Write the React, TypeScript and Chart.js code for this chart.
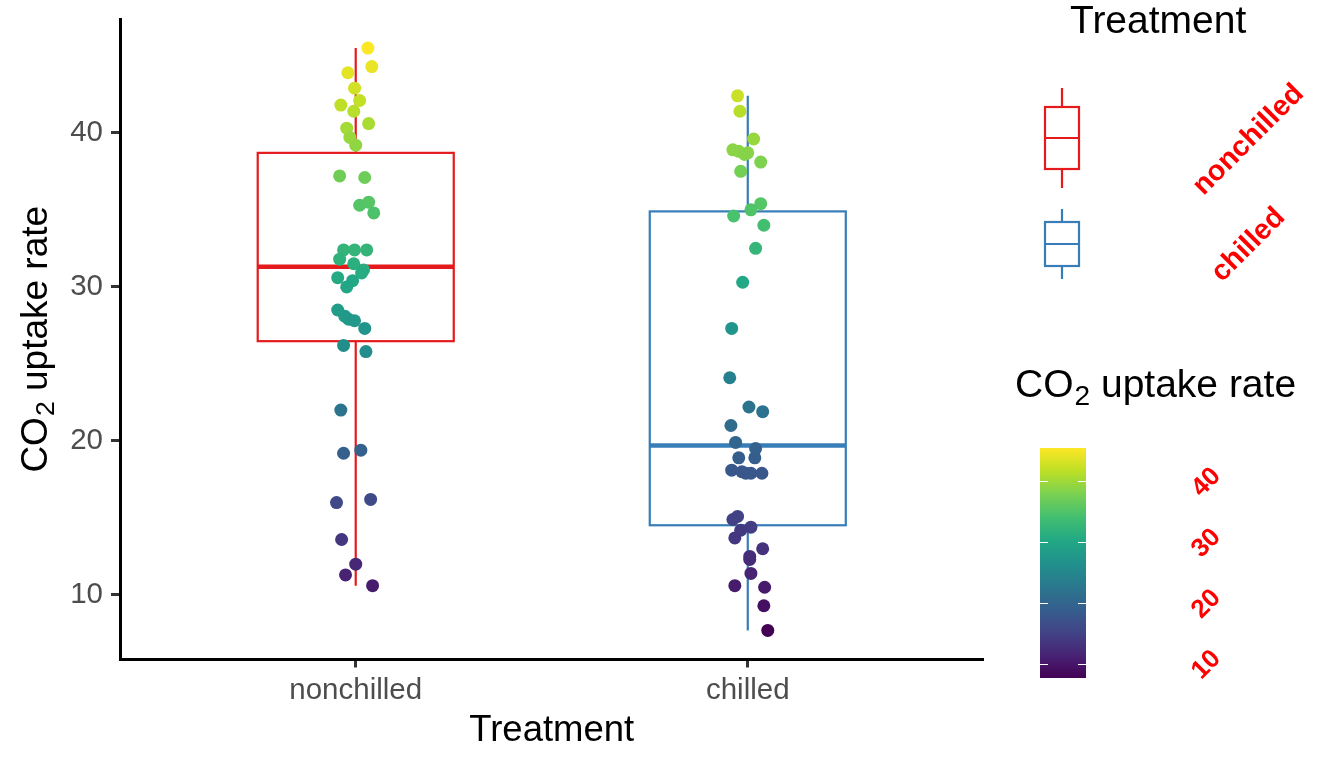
import React, { useEffect, useRef } from 'react';
import { Chart, registerables } from 'chart.js';

Chart.register(...registerables);

// ---------------- data ----------------
const categories = ['nonchilled', 'chilled'];

const nonchilledUptake = [
  45.5, 44.3, 43.9, 42.9, 42.1, 41.8, 41.4, 40.6, 40.3, 39.7,
  39.2, 37.2, 37.1, 35.5, 35.3, 34.8, 32.4, 32.4, 32.4, 31.8,
  31.5, 31.1, 30.9, 30.6, 30.4, 30.0, 28.5, 28.1, 27.9, 27.8,
  27.3, 26.2, 25.8, 22.0, 19.4, 19.2, 16.2, 16.0, 13.6, 12.0,
  11.3, 10.6,
];
// horizontal jitter, in category units
const nonchilledJitter = [
  0.031, 0.041, -0.020, -0.003, 0.010, -0.038, -0.005, 0.033, -0.023, -0.015,
  0.000, -0.041, 0.023, 0.033, 0.010, 0.046, -0.031, -0.003, 0.028, -0.041,
  -0.005, 0.020, 0.015, -0.046, -0.008, -0.023, -0.046, -0.028, -0.018, -0.003,
  0.023, -0.031, 0.026, -0.038, 0.013, -0.031, 0.038, -0.049, -0.036, 0.000,
  -0.026, 0.043,
];

const chilledUptake = [
  42.4, 41.4, 39.6, 38.9, 38.8, 38.7, 38.6, 38.1, 37.5, 35.4,
  35.0, 34.6, 34.0, 32.5, 30.3, 27.3, 24.1, 22.2, 21.9, 21.0,
  19.9, 19.5, 18.9, 18.9, 18.1, 18.0, 17.9, 17.9, 17.9, 15.1,
  14.9, 14.4, 14.2, 13.7, 13.0, 12.5, 12.3, 11.4, 10.6, 10.5,
  9.3, 7.7,
];
const chilledJitter = [
  -0.026, -0.020, 0.015, -0.038, -0.023, 0.000, -0.008, 0.033, -0.018, 0.033,
  0.008, -0.036, 0.041, 0.020, -0.013, -0.041, -0.046, 0.003, 0.038, -0.043,
  -0.031, 0.020, -0.023, 0.018, -0.041, -0.015, 0.008, 0.036, -0.005, -0.026,
  -0.038, 0.008, -0.018, -0.033, 0.038, 0.005, 0.005, 0.008, -0.033, 0.043,
  0.041, 0.051,
];

// box statistics per category
const boxLower = [10.6, 7.7];
const boxQ1 = [26.475, 14.525];
const boxMedian = [31.3, 19.7];
const boxQ3 = [38.7, 34.9];
const boxUpper = [45.5, 42.4];

const yTicks = [10, 20, 30, 40];
const colorbarTicks = [10, 20, 30, 40];

const xTitle = 'Treatment';
const yTitleParts = ['CO', '2', ' uptake rate'];
const treatmentLegendTitle = 'Treatment';

// ---------------- styles ----------------
const FONT = '"Liberation Sans", Arial, Helvetica, sans-serif';
const GROUP_COLORS = ['#E41A1C', '#377EB8'];
const LABEL_RED = '#FF0000';
const VIRIDIS = [
  '#440154', '#482475', '#414487', '#355F8D', '#2A788E', '#21918C',
  '#22A884', '#44BF70', '#7AD151', '#BDDF26', '#FDE725',
];

const allValues = [...nonchilledUptake, ...chilledUptake];
const vMin = Math.min(...allValues);
const vMax = Math.max(...allValues);
const vPad = (vMax - vMin) * 0.05;

function hexToRgb(h: string) {
  const n = parseInt(h.slice(1), 16);
  return [(n >> 16) & 255, (n >> 8) & 255, n & 255];
}
function viridis(v: number) {
  let t = (v - vMin) / (vMax - vMin);
  t = Math.max(0, Math.min(1, t));
  const p = t * (VIRIDIS.length - 1);
  const i = Math.min(VIRIDIS.length - 2, Math.floor(p));
  const f = p - i;
  const a = hexToRgb(VIRIDIS[i]);
  const b = hexToRgb(VIRIDIS[i + 1]);
  const c = a.map((av, k) => Math.round(av + (b[k] - av) * f));
  return `rgb(${c[0]},${c[1]},${c[2]})`;
}

// draws "CO" + subscript "2" + " uptake rate" starting at (0,0) baseline; returns width
function drawSubTitle(ctx: CanvasRenderingContext2D, size: number, x0: number, y0: number, measureOnly = false) {
  const sub = size * 0.72;
  ctx.font = `${size}px ${FONT}`;
  const w0 = ctx.measureText(yTitleParts[0]).width;
  const w2 = ctx.measureText(yTitleParts[2]).width;
  ctx.font = `${sub}px ${FONT}`;
  const w1 = ctx.measureText(yTitleParts[1]).width;
  const total = w0 + w1 + w2 + 1;
  if (measureOnly) return total;
  ctx.textAlign = 'left';
  ctx.textBaseline = 'alphabetic';
  ctx.font = `${size}px ${FONT}`;
  ctx.fillText(yTitleParts[0], x0, y0);
  ctx.font = `${sub}px ${FONT}`;
  ctx.fillText(yTitleParts[1], x0 + w0 + 1, y0 + size * 0.2);
  ctx.font = `${size}px ${FONT}`;
  ctx.fillText(yTitleParts[2], x0 + w0 + 1 + w1, y0);
  return total;
}

const BOX_HALF = 0.25;

const boxPlugin = {
  id: 'ggBoxes',
  beforeDatasetsDraw(chart: any) {
    const { ctx, scales } = chart;
    const x = scales.x;
    const y = scales.y;
    ctx.save();
    ctx.lineCap = 'butt';
    categories.forEach((_, i) => {
      const c = i + 1;
      const xl = x.getPixelForValue(c - BOX_HALF);
      const xr = x.getPixelForValue(c + BOX_HALF);
      const xc = x.getPixelForValue(c);
      const yt = y.getPixelForValue(boxQ3[i]);
      const yb = y.getPixelForValue(boxQ1[i]);
      ctx.strokeStyle = GROUP_COLORS[i];
      ctx.lineWidth = 2.2;
      ctx.beginPath();
      ctx.moveTo(xc, y.getPixelForValue(boxUpper[i]));
      ctx.lineTo(xc, yt);
      ctx.moveTo(xc, yb);
      ctx.lineTo(xc, y.getPixelForValue(boxLower[i]));
      ctx.stroke();
      ctx.fillStyle = '#FFFFFF';
      ctx.fillRect(xl, yt, xr - xl, yb - yt);
      ctx.strokeRect(xl, yt, xr - xl, yb - yt);
      const ym = y.getPixelForValue(boxMedian[i]);
      ctx.lineWidth = 4.5;
      ctx.beginPath();
      ctx.moveTo(xl, ym);
      ctx.lineTo(xr, ym);
      ctx.stroke();
    });
    ctx.restore();
  },
};

function drawRotatedLabel(ctx: CanvasRenderingContext2D, text: string, cx: number, cy: number, size: number) {
  ctx.save();
  ctx.translate(cx, cy);
  ctx.rotate(-Math.PI / 4);
  ctx.font = `bold ${size}px ${FONT}`;
  ctx.fillStyle = LABEL_RED;
  ctx.textAlign = 'center';
  ctx.textBaseline = 'middle';
  ctx.fillText(text, 0, 0);
  ctx.restore();
}

const titlePlugin = {
  id: 'ggYTitle',
  afterDraw(chart: any) {
    const ctx: CanvasRenderingContext2D = chart.ctx;
    const area = chart.chartArea;
    const cy = (area.top + area.bottom) / 2;
    ctx.save();
    ctx.fillStyle = '#000000';
    const size = 37;
    const w = drawSubTitle(ctx, size, 0, 0, true);
    ctx.translate(46.5, cy);
    ctx.rotate(-Math.PI / 2);
    drawSubTitle(ctx, size, -w / 2, 0);
    ctx.restore();
  },
};

const legendPlugin = {
  id: 'ggLegend',
  afterDraw(chart: any) {
    const ctx: CanvasRenderingContext2D = chart.ctx;
    ctx.save();
    // Treatment legend
    ctx.font = `39px ${FONT}`;
    ctx.fillStyle = '#000000';
    ctx.textAlign = 'left';
    ctx.textBaseline = 'alphabetic';
    ctx.fillText(treatmentLegendTitle, 1070, 33);

    const keys = [
      { top: 88, q3: 107, med: 138, q1: 169, bottom: 188, labelY: 140 },
      { top: 209, q3: 222, med: 244, q1: 266, bottom: 279, labelY: 245 },
    ];
    const kx = 1062;
    const kl = 1045;
    const kr = 1079;
    keys.forEach((k, i) => {
      ctx.strokeStyle = GROUP_COLORS[i];
      ctx.lineWidth = 2.2;
      ctx.beginPath();
      ctx.moveTo(kx, k.top);
      ctx.lineTo(kx, k.q3);
      ctx.moveTo(kx, k.q1);
      ctx.lineTo(kx, k.bottom);
      ctx.stroke();
      ctx.strokeRect(kl, k.q3, kr - kl, k.q1 - k.q3);
      ctx.beginPath();
      ctx.moveTo(kl, k.med);
      ctx.lineTo(kr, k.med);
      ctx.stroke();
      drawRotatedLabel(ctx, categories[i], 1248.5, k.labelY, 28.7);
    });

    // colour bar legend
    ctx.fillStyle = '#000000';
    drawSubTitle(ctx, 39, 1015, 397);

    const cbL = 1040;
    const cbR = 1086;
    const cbT = 448;
    const cbB = 678;
    const grad = ctx.createLinearGradient(0, cbB, 0, cbT);
    VIRIDIS.forEach((col, i) => grad.addColorStop(i / (VIRIDIS.length - 1), col));
    ctx.fillStyle = grad;
    ctx.fillRect(cbL, cbT, cbR - cbL, cbB - cbT);

    const valToY = (v: number) => cbB - ((v - vMin) / (vMax - vMin)) * (cbB - cbT);
    ctx.strokeStyle = '#FFFFFF';
    ctx.lineWidth = 1.2;
    colorbarTicks.forEach((v) => {
      const ty = Math.round(valToY(v)) + 0.5;
      ctx.beginPath();
      ctx.moveTo(cbL, ty);
      ctx.lineTo(cbL + 8, ty);
      ctx.moveTo(cbR - 8, ty);
      ctx.lineTo(cbR, ty);
      ctx.stroke();
      drawRotatedLabel(ctx, String(v), 1206.5, valToY(v) + 1, 26);
    });
    ctx.restore();
  },
};

export default function App() {
  const canvasRef = useRef<HTMLCanvasElement | null>(null);

  useEffect(() => {
    document.body.style.margin = '0';
    const canvas = canvasRef.current;
    if (!canvas) return;

    const makePoints = (vals: number[], jit: number[], c: number) =>
      vals.map((v, i) => ({ x: c + jit[i], y: v }));

    const chart = new Chart(canvas, {
      type: 'scatter',
      data: {
        datasets: [
          {
            label: categories[0],
            data: makePoints(nonchilledUptake, nonchilledJitter, 1),
            backgroundColor: nonchilledUptake.map(viridis),
            borderWidth: 0,
            pointRadius: 6.5,
            pointHoverRadius: 6.5,
          },
          {
            label: categories[1],
            data: makePoints(chilledUptake, chilledJitter, 2),
            backgroundColor: chilledUptake.map(viridis),
            borderWidth: 0,
            pointRadius: 6.5,
            pointHoverRadius: 6.5,
          },
        ],
      },
      options: {
        animation: false,
        responsive: false,
        maintainAspectRatio: false,
        devicePixelRatio: 1,
        events: [],
        layout: { padding: { top: 19, right: 361, bottom: 0, left: 0 } },
        plugins: {
          legend: { display: false },
          tooltip: { enabled: false },
          title: { display: false },
        },
        scales: {
          x: {
            type: 'linear',
            min: 0.4,
            max: 2.6,
            afterBuildTicks: (s: any) => {
              s.ticks = categories.map((_, i) => ({ value: i + 1 }));
            },
            afterFit: (s: any) => {
              s.height = 108.5;
              s.paddingLeft = 0;
              s.paddingRight = 0;
            },
            ticks: {
              callback: (v: any) => categories[Math.round(Number(v)) - 1] ?? '',
              color: '#4D4D4D',
              font: { family: FONT, size: 29.5 },
              padding: 5.5,
              maxRotation: 0,
              autoSkip: false,
            },
            grid: {
              drawOnChartArea: false,
              drawTicks: true,
              tickLength: 8,
              tickWidth: 3,
              tickColor: '#333333',
            },
            border: { display: true, color: '#000000', width: 3 },
            title: {
              display: true,
              text: xTitle,
              color: '#000000',
              font: { family: FONT, size: 36.5 },
              padding: { top: 0, bottom: 15 },
            },
          },
          y: {
            type: 'linear',
            min: vMin - vPad,
            max: vMax + vPad,
            afterBuildTicks: (s: any) => {
              s.ticks = yTicks.map((v) => ({ value: v }));
            },
            afterFit: (s: any) => {
              s.width = 120.5;
              s.paddingTop = 0;
              s.paddingBottom = 0;
            },
            ticks: {
              color: '#4D4D4D',
              font: { family: FONT, size: 29.5 },
              padding: 8,
            },
            grid: {
              drawOnChartArea: false,
              drawTicks: true,
              tickLength: 9.5,
              tickWidth: 3,
              tickColor: '#333333',
            },
            border: { display: true, color: '#000000', width: 3 },
            title: { display: false },
          },
        },
      } as any,
      plugins: [boxPlugin, titlePlugin, legendPlugin],
    });

    return () => {
      chart.destroy();
    };
  }, []);

  return (
    <div style={{ position: 'relative', width: 1344, height: 768, background: '#FFFFFF' }}>
      <canvas
        ref={canvasRef}
        width={1344}
        height={768}
        style={{ display: 'block', width: 1344, height: 768 }}
      />
    </div>
  );
}
